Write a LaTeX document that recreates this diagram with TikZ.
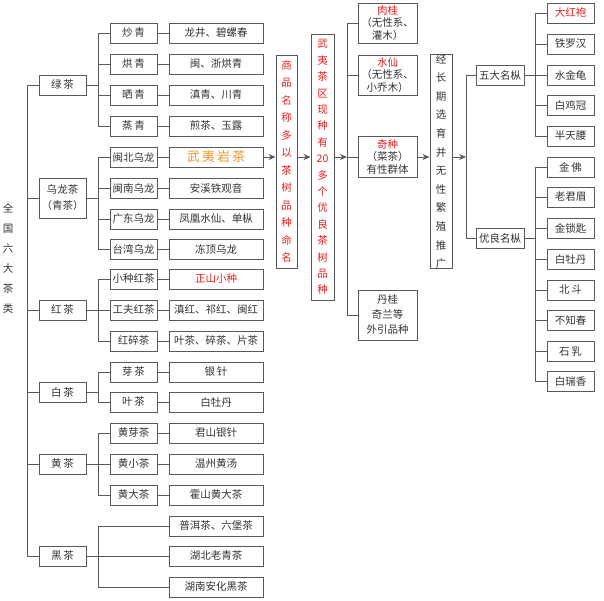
\documentclass[tikz,border=0pt]{standalone}
\usepackage{fontspec}
\setmainfont{Noto Sans CJK SC}
\usetikzlibrary{arrows.meta}
\definecolor{ln}{gray}{0.35}
\definecolor{rd}{RGB}{235,30,30}
\definecolor{og}{RGB}{240,150,40}
\tikzset{
 bx/.style={draw=ln,line width=0.9pt,inner sep=0pt,minimum height=20pt,font=\fontsize{10.5}{12}\selectfont,text=black!80},
 l1/.style={bx,minimum width=47pt},
 l2/.style={bx,minimum width=47pt},
 l3/.style={bx,minimum width=94pt},
 r1/.style={bx,minimum width=59pt,align=center,font=\fontsize{10.5}{12.5}\selectfont},
 r3/.style={bx,minimum width=47pt},
 wire/.style={draw=ln,line width=0.9pt},
 arr/.style={wire,-{Stealth[length=7pt,width=6pt]}}
}
\begin{document}
\begin{tikzpicture}[x=1pt,y=-1pt]
\useasboundingbox (0,0) rectangle (604,600);
\node[font=\fontsize{10.5}{20}\selectfont,align=center,text=black!80] (root) at (8,258) {全\\国\\六\\大\\茶\\类};
% level 1
\node[l1] (g) at (62.5,85) {绿\,茶};
\node[l1,minimum height=40pt,align=center,font=\fontsize{10.5}{16}\selectfont] (w) at (62.5,198) {乌龙茶\\（青茶）};
\node[l1] (h) at (62.5,310) {红\,茶};
\node[l1] (b) at (62.5,392) {白\,茶};
\node[l1] (y) at (62.5,464) {黄\,茶};
\node[l1] (k) at (62.5,556) {黑\,茶};
\draw[wire] (27,85) -- (27,556);
\foreach \n in {g,w,h,b,y,k} \draw[wire] (27,0 |- \n.west) -- (\n.west);
% level 2 and 3
\foreach \i/\yy/\p/\a/\c/\col in {
 1/33/g/炒\,青/龙井、碧螺春/black!80,
 2/64/g/烘\,青/闽、浙烘青/black!80,
 3/95/g/晒\,青/滇青、川青/black!80,
 4/126/g/蒸\,青/煎茶、玉露/black!80,
 5/157/w/闽北乌龙/{}/black!80,
 6/188/w/闽南乌龙/安溪铁观音/black!80,
 7/219/w/广东乌龙/凤凰水仙、单枞/black!80,
 8/249/w/台湾乌龙/冻顶乌龙/black!80,
 9/279/h/小种红茶/正山小种/rd,
 10/310/h/工夫红茶/滇红、祁红、闽红/black!80,
 11/341/h/红碎茶/叶茶、碎茶、片茶/black!80,
 12/372/b/芽\,茶/银\,针/black!80,
 13/402/b/叶\,茶/白牡丹/black!80,
 14/433/y/黄芽茶/君山银针/black!80,
 15/464/y/黄小茶/温州黄汤/black!80,
 15x/495/y/黄大茶/霍山黄大茶/black!80}{
 \node[l2] (m\i) at (133.5,\yy) {\a};
 \node[l3,text=\col] (t\i) at (216,\yy) {\c};
 \draw[wire] (m\i) -- (t\i);
 \draw[wire] (98,\yy) -- (m\i.west);
}
\node[font=\fontsize{13}{14}\selectfont,text=og] at (t5) {武\,夷\,岩\,茶};
\foreach \i/\yy/\c in {k1/526/普洱茶、六堡茶,k2/556/湖北老青茶,k3/587/湖南安化黑茶}{
 \node[l3] (\i) at (216,\yy) {\c};
 \draw[wire] (98,\yy) -- (\i.west);
}
\draw[wire] (g) -- (98,85); \draw[wire] (98,33) -- (98,126);
\draw[wire] (w) -- (98,198); \draw[wire] (98,157) -- (98,249);
\draw[wire] (h) -- (98,310); \draw[wire] (98,279) -- (98,341);
\draw[wire] (b) -- (98,392); \draw[wire] (98,372) -- (98,402);
\draw[wire] (y) -- (98,464); \draw[wire] (98,433) -- (98,495);
\draw[wire] (k) -- (98,556); \draw[wire] (98,526) -- (98,587);
% vertical boxes
\node[bx,minimum width=21pt,minimum height=213pt,align=center,text=rd,font=\fontsize{10.5}{17.5}\selectfont] (v1) at (286.5,161.5) {商\\品\\名\\称\\多\\以\\茶\\树\\品\\种\\命\\名};
\node[bx,minimum width=23pt,minimum height=266pt,align=center,text=rd,font=\fontsize{10.5}{16.4}\selectfont] (v2) at (322.5,167) {武\\夷\\茶\\区\\现\\种\\有\\20\\多\\个\\优\\良\\茶\\树\\品\\种};
\draw[arr] (t5) -- (v1.west |- t5);
\draw[arr] (v1.east |- t5) -- (v2.west |- t5);
\coordinate (j1) at (347,157);
\draw[arr] (v2.east |- t5) -- (j1);
% varieties
\node[r1,minimum height=40pt] (p1) at (387.5,23) {\textcolor{rd}{肉桂}\\（无性系、\\灌木）};
\node[r1,minimum height=40pt] (p2) at (387.5,75) {\textcolor{rd}{水仙}\\（无性系、\\小乔木）};
\node[r1,minimum height=41pt] (p3) at (387.5,157) {\textcolor{rd}{奇种}\\（菜茶）\\有性群体};
\node[r1,minimum height=50pt,font=\fontsize{10.5}{15}\selectfont] (p4) at (387.5,315) {丹桂\\奇兰等\\外引品种};
\draw[wire] (347,23) -- (347,315);
\foreach \n in {p1,p2,p3,p4} \draw[wire] (347,0 |- \n.west) -- (\n.west);
\node[bx,minimum width=22pt,minimum height=213pt,align=center,font=\fontsize{10.5}{18.6}\selectfont] (v3) at (441,161.5) {经\\长\\期\\选\\育\\并\\无\\性\\繁\\殖\\推\\广};
\draw[arr] (p3) -- (v3.west |- p3);
\coordinate (j2) at (466,157);
\draw[arr] (v3.east |- p3) -- (j2);
\node[bx,minimum width=48pt] (f1) at (500,75) {五大名枞};
\node[bx,minimum width=48pt] (f2) at (500,238) {优良名枞};
\draw[wire] (466,75) -- (466,238);
\draw[wire] (466,75) -- (f1.west); \draw[wire] (466,238) -- (f2.west);
\foreach \i/\yy/\c/\col in {a1/13/大红袍/rd,a2/44/铁罗汉/black!80,a3/75/水金龟/black!80,a4/105/白鸡冠/black!80,a5/136/半天腰/black!80}{
 \node[r3,text=\col] (\i) at (570.5,\yy) {\c};
 \draw[wire] (535,\yy) -- (\i.west);
}
\draw[wire] (535,13) -- (535,136); \draw[wire] (f1) -- (535,75);
\foreach \i/\yy/\c in {b1/167/金\,佛,b2/197/老君眉,b3/228/金锁匙,b4/259/白牡丹,b5/290/北\,斗,b6/320/不知春,b7/351/石\,乳,b8/381/白瑞香}{
 \node[r3] (\i) at (570.5,\yy) {\c};
 \draw[wire] (535,\yy) -- (\i.west);
}
\draw[wire] (535,167) -- (535,381); \draw[wire] (f2) -- (535,238);
\end{tikzpicture}
\end{document}
